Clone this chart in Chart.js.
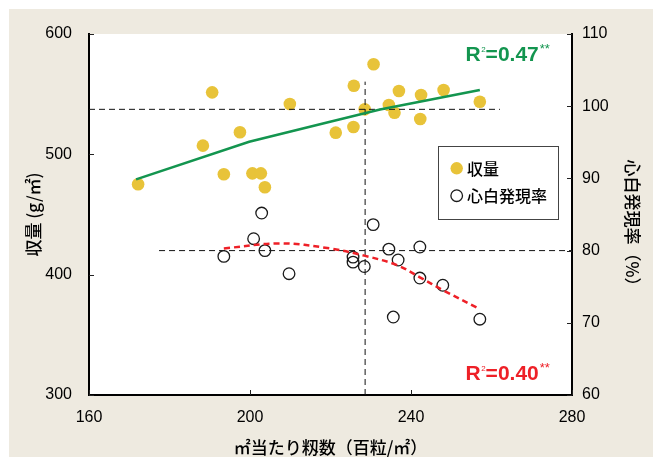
<!DOCTYPE html>
<html><head><meta charset="utf-8">
<script src="https://cdn.jsdelivr.net/npm/chart.js@4/dist/chart.umd.min.js"></script>
<style>
html,body{margin:0;padding:0;background:#fff;}
#wrap{position:relative;width:653px;height:457px;}
canvas{display:block;}
</style></head><body>
<div id="wrap"><canvas id="c" width="653" height="457"></canvas></div>
<script>
// ---- data ----
const yieldX = [172.2, 188.3, 190.6, 193.5, 197.5, 200.6, 202.7, 203.7, 209.9, 221.3, 225.7, 225.8, 228.5, 230.7, 234.5, 235.9, 237.0, 242.3, 242.5, 248.1, 257.1];
const yieldY = [475.1, 507.2, 551.5, 483.4, 518.3, 484.2, 484.2, 472.6, 541.8, 518.0, 522.7, 557.0, 537.4, 574.8, 541.0, 534.6, 552.6, 529.4, 549.3, 553.5, 543.7];
const rateX = [193.5, 200.9, 202.9, 203.7, 209.7, 225.6, 225.6, 228.4, 230.6, 234.5, 235.6, 236.8, 242.2, 242.2, 247.9, 257.1];
const rateY = [79.2, 81.65, 85.2, 80.0, 76.8, 79.1, 78.4, 77.8, 83.6, 80.2, 70.8, 78.7, 80.5, 76.2, 75.2, 70.5];
const yieldFitX = [171.7, 199.8, 219.9, 232.3, 257.1];
const yieldFitY = [479.2, 510.5, 527.1, 537.2, 553.5];
const rateFitX = [193.5, 207.5, 219.9, 228.4, 236.5, 242.2, 248.0, 257.1];
const rateFitY = [80.3, 81.0, 80.3, 79.3, 78.0, 76.3, 74.5, 71.9];
const meanX = 228.6;          // vertical reference (mean spikelet number)
const meanYield = 537.4;      // horizontal reference on yield axis
const meanRate = 80;          // horizontal reference on rate axis
const refVTop = 560.4;
const refYieldEndX = 262.1;
const refRateStartX = 177.4;
const xTicks = [160, 200, 240, 280];
const yTicks = [300, 400, 500, 600];
const y2Ticks = [60, 70, 80, 90, 100, 110];
const seriesNames = ['収量', '心白発現率'];
const r2Yield = '0.47';
const r2Rate = '0.40';
const xTitle = '㎡当たり籾数（百粒/㎡）';
const yTitle = '収量 (g/㎡)';
const y2Title = '心白発現率（%）';

const pts = (xs, ys) => xs.map((x, i) => ({x, y: ys[i]}));

const YELLOW = '#E8C339';
const GREEN = '#13954F';
const RED = '#EE2027';
const BEIGE = '#EEEAE0';
const CJK = '"Noto Sans CJK JP", "Noto Sans", sans-serif';
const LAT = '"Liberation Sans", Arial, sans-serif';

const bgPlugin = {
  id: 'bg',
  beforeDraw(chart) {
    const {ctx, chartArea: a} = chart;
    ctx.save();
    ctx.fillStyle = '#fff';
    ctx.fillRect(0, 0, chart.width, chart.height);
    ctx.fillStyle = BEIGE;
    ctx.fillRect(9, 9, chart.width - 9, chart.height - 9);
    ctx.fillStyle = '#fff';
    ctx.fillRect(a.left, a.top, a.right - a.left, a.bottom - a.top);
    ctx.restore();
  }
};

function drawR2(ctx, x, baseline, value, color) {
  ctx.save();
  ctx.fillStyle = color;
  ctx.textBaseline = 'alphabetic';
  ctx.textAlign = 'left';
  ctx.font = 'bold 21px ' + LAT;
  ctx.fillText('R', x, baseline);
  x += ctx.measureText('R').width;
  ctx.font = '8px ' + LAT;
  ctx.fillText('2', x + 0.5, baseline - 9);
  x += ctx.measureText('2').width + 0.5;
  ctx.font = 'bold 21px ' + LAT;
  const t = '=' + value;
  ctx.fillText(t, x, baseline);
  x += ctx.measureText(t).width + 1;
  ctx.font = '13px ' + LAT;
  ctx.fillText('**', x, baseline - 8);
  ctx.restore();
}

const overlayPlugin = {
  id: 'overlay',
  afterDraw(chart) {
    const {ctx, chartArea: a, scales} = chart;
    ctx.save();
    // inner ticks
    ctx.strokeStyle = '#222';
    ctx.lineWidth = 1;
    xTicks.forEach(v => {
      const p = Math.round(scales.x.getPixelForValue(v)) + 0.5;
      ctx.beginPath(); ctx.moveTo(p, a.bottom); ctx.lineTo(p, a.bottom - 5); ctx.stroke();
    });
    yTicks.forEach(v => {
      const p = Math.round(scales.y.getPixelForValue(v)) + 0.5;
      ctx.beginPath(); ctx.moveTo(a.left, p); ctx.lineTo(a.left + 5, p); ctx.stroke();
    });
    y2Ticks.forEach(v => {
      const p = Math.round(scales.y2.getPixelForValue(v)) + 0.5;
      ctx.beginPath(); ctx.moveTo(a.right, p); ctx.lineTo(a.right - 5, p); ctx.stroke();
    });
    // legend box
    const lx = 438, ly = 146, lw = 120, lh = 73;
    ctx.fillStyle = '#fff';
    ctx.fillRect(lx, ly, lw, lh);
    ctx.strokeStyle = '#444';
    ctx.lineWidth = 1;
    ctx.strokeRect(lx + 0.5, ly + 0.5, lw, lh);
    const ds = chart.data.datasets;
    ctx.font = '500 16px ' + CJK;
    ctx.textBaseline = 'middle';
    ctx.textAlign = 'left';
    // item 1
    ctx.beginPath(); ctx.arc(456.7, 168.3, 6.2, 0, Math.PI * 2);
    ctx.fillStyle = ds[0].backgroundColor; ctx.fill();
    ctx.fillStyle = '#000';
    ctx.fillText(ds[0].label, 467, 168.5);
    // item 2
    ctx.beginPath(); ctx.arc(456.7, 195.7, 5.8, 0, Math.PI * 2);
    ctx.strokeStyle = ds[1].borderColor; ctx.lineWidth = 1.3; ctx.stroke();
    ctx.fillStyle = '#000';
    ctx.fillText(ds[1].label, 467, 196);
    ctx.restore();
    // R2 labels
    drawR2(ctx, 465.5, 61, r2Yield, GREEN);
    drawR2(ctx, 465.5, 380, r2Rate, RED);
    // right axis title
    ctx.save();
    ctx.translate(632, 227);
    ctx.rotate(Math.PI / 2);
    ctx.font = '500 17px ' + CJK;
    ctx.fillStyle = '#000';
    ctx.textAlign = 'center';
    ctx.textBaseline = 'middle';
    ctx.fillText(y2Title, 0, 0);
    ctx.restore();
  }
};

const dashRef = {borderColor: '#111', borderWidth: 1, borderDash: [6, 4], pointRadius: 0, showLine: true, fill: false};

new Chart(document.getElementById('c'), {
  type: 'scatter',
  data: {
    datasets: [
      {label: seriesNames[0], data: pts(yieldX, yieldY), yAxisID: 'y', backgroundColor: YELLOW, borderColor: YELLOW, borderWidth: 0, pointRadius: 6.3, order: 5},
      {label: seriesNames[1], data: pts(rateX, rateY), yAxisID: 'y2', backgroundColor: 'rgba(0,0,0,0)', borderColor: '#1a1a1a', borderWidth: 1.3, pointRadius: 5.8, order: 3},
      {label: 'fitYield', data: pts(yieldFitX, yieldFitY), yAxisID: 'y', showLine: true, borderColor: GREEN, borderWidth: 2.6, pointRadius: 0, tension: 0, order: 2},
      {label: 'fitRate', data: pts(rateFitX, rateFitY), yAxisID: 'y2', showLine: true, borderColor: RED, borderWidth: 2.5, borderDash: [6, 4], pointRadius: 0, tension: 0.35, order: 1},
      Object.assign({label: 'refV', data: [{x: meanX, y: 300}, {x: meanX, y: refVTop}], yAxisID: 'y', order: 4}, dashRef),
      Object.assign({label: 'refYield', data: [{x: 160, y: meanYield}, {x: refYieldEndX, y: meanYield}], yAxisID: 'y', order: 4}, dashRef),
      Object.assign({label: 'refRate', data: [{x: refRateStartX, y: meanRate}, {x: 280, y: meanRate}], yAxisID: 'y2', order: 4}, dashRef)
    ]
  },
  options: {
    responsive: false,
    devicePixelRatio: 1,
    animation: false,
    layout: {padding: {top: 34, left: 0, right: 0, bottom: 0}},
    plugins: {legend: {display: false}, tooltip: {enabled: false}},
    scales: {
      x: {
        type: 'linear', min: 160, max: 280,
        afterBuildTicks: s => { s.ticks = xTicks.map(v => ({value: v})); },
        afterFit: s => { s.height = 62; },
        grid: {display: false, drawTicks: false},
        border: {display: true, color: '#000', width: 2},
        ticks: {padding: 13, color: '#000', font: {family: LAT, size: 16}},
        title: {display: true, text: xTitle, color: '#000', font: {family: CJK, size: 17, weight: 500, lineHeight: 1}, padding: {top: 0, bottom: 0.5}}
      },
      y: {
        type: 'linear', position: 'left', min: 300, max: 600,
        afterBuildTicks: s => { s.ticks = yTicks.map(v => ({value: v})); },
        afterFit: s => { s.width = 89; },
        grid: {display: false, drawTicks: false},
        border: {display: true, color: '#000', width: 2},
        ticks: {padding: 17, color: '#000', font: {family: LAT, size: 16}},
        title: {display: true, text: yTitle, color: '#000', font: {family: CJK, size: 17, weight: 500, lineHeight: 1.2}, padding: {top: 23, bottom: 0}}
      },
      y2: {
        type: 'linear', position: 'right', min: 60, max: 110,
        afterBuildTicks: s => { s.ticks = y2Ticks.map(v => ({value: v})); },
        afterFit: s => { s.width = 81; },
        grid: {display: false, drawTicks: false},
        border: {display: true, color: '#000', width: 2},
        ticks: {padding: 10, color: '#000', font: {family: LAT, size: 16}}
      }
    }
  },
  plugins: [bgPlugin, overlayPlugin]
});
</script>
</body></html>
